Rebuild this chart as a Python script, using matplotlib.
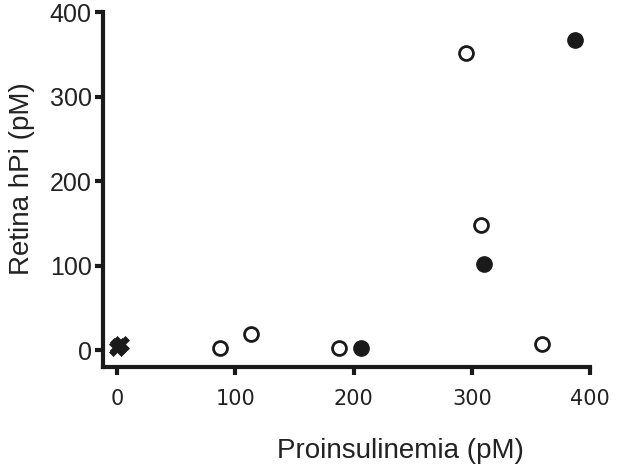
#!/usr/bin/env python3
# retina hPi vs proinsulinemia scatter
import matplotlib
matplotlib.use('Agg')
import matplotlib.pyplot as plt

### data (pM)
open_x = [87, 113, 188, 295, 308, 359]
open_y = [2, 19, 2, 352, 148, 7]
filled_x = [206, 310, 387]
filled_y = [2, 102, 367]
cross_x = [0, 3, 1]
cross_y = [3, 7, 5]

xticks = [0, 100, 200, 300, 400]
yticks = [0, 100, 200, 300, 400]

plt.rcParams['font.family'] = ['Liberation Sans', 'DejaVu Sans']

fig = plt.figure(figsize=(6.2, 4.72), dpi=100)
ax = fig.add_axes([0.166, 0.2225, 0.786, 0.752])

ax.plot(open_x, open_y, 'o', ms=10, mfc='white', mec='#1a1a1a', mew=2.0, clip_on=False)
ax.plot(filled_x, filled_y, 'o', ms=11, mfc='#1a1a1a', mec='#1a1a1a', clip_on=False)
ax.plot(cross_x, cross_y, 'X', ms=12, mfc='#1a1a1a', mec='#1a1a1a', mew=0.5, clip_on=False)

ax.set_xlim(-12, 400)
ax.set_ylim(-20, 400)
ax.set_xticks(xticks)
ax.set_yticks(yticks)
ax.set_xticklabels([str(t) for t in xticks], family='DejaVu Sans', fontsize=15, color='#222222')
ax.set_yticklabels([str(t) for t in yticks], fontsize=18, color='#222222')

for s in ['top', 'right']:
    ax.spines[s].set_visible(False)
for s in ['left', 'bottom']:
    ax.spines[s].set_linewidth(3)
    ax.spines[s].set_color('#1a1a1a')
ax.tick_params(length=6, width=3, color='#1a1a1a', pad=2)
ax.tick_params(axis='x', pad=10)

ax.set_xlabel('Proinsulinemia (pM)', fontsize=20, color='#222222')
ax.set_ylabel('Retina hPi (pM)', fontsize=20, color='#222222')
ax.xaxis.set_label_coords(0.61, -0.2)
ax.yaxis.set_label_coords(-0.14, 0.53)

fig.savefig('out.png', dpi=100)
